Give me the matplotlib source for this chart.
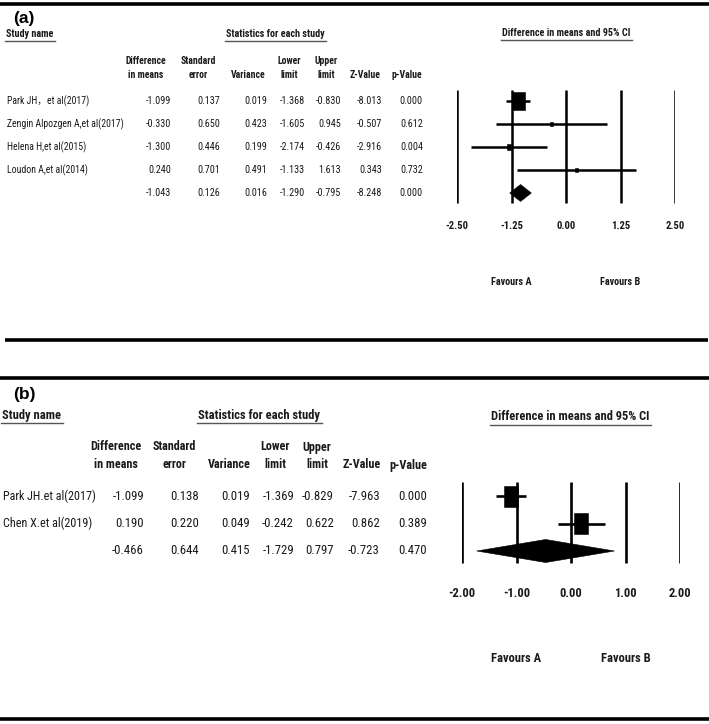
import matplotlib
matplotlib.use("Agg")
import matplotlib.pyplot as plt
from matplotlib import font_manager
from matplotlib.patches import Rectangle, Polygon
import matplotlib.transforms as mtransforms
import numpy as np

# ---------------- data ----------------
headers = ["Difference\nin means", "Standard\nerror", "Variance", "Lower\nlimit",
           "Upper\nlimit", "Z-Value", "p-Value"]

# panel (a) - last entry is the pooled (summary) row
a_studies = ["Park JH，et al(2017)", "Zengin Alpozgen A,et al(2017)",
             "Helena H,et al(2015)", "Loudon A,et al(2014)", ""]
a_diff = [-1.099, -0.330, -1.300, 0.240, -1.043]
a_se = [0.137, 0.650, 0.446, 0.701, 0.126]
a_var = [0.019, 0.423, 0.199, 0.491, 0.016]
a_lower = [-1.368, -1.605, -2.174, -1.133, -1.290]
a_upper = [-0.830, 0.945, -0.426, 1.613, -0.795]
a_z = [-8.013, -0.507, -2.916, 0.343, -8.248]
a_p = [0.000, 0.612, 0.004, 0.732, 0.000]
a_ticks = [-2.50, -1.25, 0.00, 1.25, 2.50]

# panel (b)
b_studies = ["Park JH.et al(2017)", "Chen X.et al(2019)", ""]
b_diff = [-1.099, 0.190, -0.466]
b_se = [0.138, 0.220, 0.644]
b_var = [0.019, 0.049, 0.415]
b_lower = [-1.369, -0.242, -1.729]
b_upper = [-0.829, 0.622, 0.797]
b_z = [-7.963, 0.862, -0.723]
b_p = [0.000, 0.389, 0.470]
b_ticks = [-2.00, -1.00, 0.00, 1.00, 2.00]

fav_labels = ["Favours A", "Favours B"]

# ---------------- fonts ----------------
avail = {f.name for f in font_manager.fontManager.ttflist}
narrow = "Liberation Sans"
for cand in ["Liberation Sans Narrow", "Arial Narrow", "Roboto Condensed",
             "Noto Sans Condensed", "Open Sans Condensed"]:
    if cand in avail:
        narrow = cand
        break
FAM = [narrow, "Noto Sans CJK SC", "DejaVu Sans"]
plt.rcParams["font.family"] = FAM

W, H = 709, 724
fig = plt.figure(figsize=(W / 100, H / 100), dpi=100)
bg = fig.add_axes([0, 0, 1, 1])
bg.set_xlim(0, W)
bg.set_ylim(H, 0)
bg.axis("off")

TXT = "#1a1a1a"


def fig_rect(left, top, right, bottom):
    return [left / W, 1 - bottom / H, (right - left) / W, (bottom - top) / H]


# horizontal rules
for y, x0, x1 in [(4, 0, 709), (340, 5, 708), (378, 0, 709), (719, 0, 709)]:
    bg.plot([x0, x1], [y, y], color="black", lw=2.6, solid_capstyle="butt")

renderer = fig.canvas.get_renderer()


def underlined(x, y, s, fs, ha, ul_dy):
    t = bg.text(x, y, s, fontsize=fs, fontweight="bold", ha=ha, va="center",
                color=TXT)
    bb = t.get_window_extent(renderer)
    bg.plot([bb.x0 - 1, bb.x1 + 2], [y + ul_dy, y + ul_dy], color="#555555", lw=1.0)


def dl_tau2(y, v):
    y = np.asarray(y)
    v = np.asarray(v)
    w = 1 / v
    yb = np.sum(w * y) / np.sum(w)
    q = np.sum(w * (y - yb) ** 2)
    c = np.sum(w) - np.sum(w ** 2) / np.sum(w)
    return max(0.0, (q - (len(y) - 1)) / c)


def panel(label, studies, cols, diff, lower, upper, var, ticks, random_eff, L):
    # labels / titles
    bg.text(L["label_x"], L["label_y"], label, fontsize=L["fs_label"], fontweight="bold",
            family=["Liberation Sans", "DejaVu Sans"], ha="left", va="center",
            color="black")
    underlined(L["name_x"] - 1, L["title_y"], "Study name", L["fs_title"], "left", L["ul_dy"])
    underlined(L["stat_cx"], L["title_y"], "Statistics for each study", L["fs_title"],
               "center", L["ul_dy"])
    underlined(L["ci_x"], L["ci_y"], "Difference in means and 95% CI", L["fs_title"],
               "center", L["ul_dy"])
    # column headers
    for cx, h in zip(L["hdr_cx"], headers):
        parts = h.split("\n")
        ys = L["hdr_y"] if len(parts) == 2 else L["hdr_y"][1:]
        for yy, ptxt in zip(ys, parts):
            bg.text(cx, yy, ptxt, fontsize=L["fs_hdr"], fontweight="bold",
                    ha="center", va="center", color=TXT)
    # rows
    for i, name in enumerate(studies):
        y = L["row_y0"] + i * L["row_dy"]
        if name:
            bg.text(L["name_x"], y, name, fontsize=L["fs_name"], ha="left",
                    va="center", color=TXT)
        for rx, col in zip(L["val_rx"], cols):
            bg.text(rx, y, f"{col[i]:.3f}", fontsize=L["fs_val"], ha="right",
                    va="center", color=TXT)

    # forest plot axes
    px0, px1 = L["plot_x"]
    py0, py1 = L["plot_y"]
    ax = fig.add_axes(fig_rect(px0, py0, px1, py1))
    ax.set_xlim(ticks[0], ticks[-1])
    r0, dr = L["row_y0"], L["row_dy"]
    ax.set_ylim((py1 - r0) / dr, (py0 - r0) / dr)
    ax.patch.set_alpha(0)
    for s in ax.spines.values():
        s.set_visible(False)
    ax.set_yticks([])
    ax.set_xticks(ticks)
    ax.set_xticklabels([f"{t:.2f}" for t in ticks], fontsize=L["fs_tick"],
                       fontweight="bold", color=TXT)
    ax.tick_params(axis="x", length=0, pad=L["tick_pad"])

    vy0 = (L["vline"][0] - r0) / dr
    vy1 = (L["vline"][1] - r0) / dr
    ax.vlines(ticks, vy0, vy1, color="black", lw=L["lw"])

    n = len(studies) - 1
    rows = np.arange(n)
    ax.hlines(rows, lower[:n], upper[:n], color="black", lw=L["lw"], zorder=3)

    tau2 = dl_tau2(diff[:n], var[:n]) if random_eff else 0.0
    w = 1 / (np.asarray(var[:n]) + tau2)
    scale = np.sqrt(w / w.max())
    ppu = (px1 - px0) / (ticks[-1] - ticks[0])
    bw, bh = L["box"]
    for i in range(n):
        ww = bw * scale[i] / ppu
        hh = bh * scale[i] / dr
        ax.add_patch(Rectangle((diff[i] - ww / 2, i - hh / 2), ww, hh,
                               facecolor="black", edgecolor="black", lw=0.4, zorder=4))
    # summary diamond
    hd = L["diamond_h"] / 2 / dr
    ax.add_patch(Polygon([(lower[n], n), (diff[n], n - hd), (upper[n], n),
                          (diff[n], n + hd)], closed=True, facecolor="black",
                         edgecolor="black", lw=0.4, zorder=4))

    tr = mtransforms.blended_transform_factory(ax.transData, bg.transData)
    for xv, lab in zip([ticks[1], ticks[3]], fav_labels):
        ax.text(xv, L["fav_y"], lab, transform=tr, fontsize=L["fs_title"],
                fontweight="bold", ha="center", va="center", color=TXT)
    return ax


LA = dict(label_x=13, label_y=19, fs_label=12.5, title_y=34, ul_dy=7, name_x=7, stat_cx=275,
          ci_x=566, ci_y=33, hdr_cx=[146, 198, 248, 289, 326, 365, 407],
          hdr_y=(61, 75), row_y0=101, row_dy=23,
          val_rx=[171, 220, 267, 305, 341, 382, 423],
          fs_val=7.3, fs_name=7.0, fs_hdr=7.0, fs_title=7.3, fs_tick=7.7,
          plot_x=(457, 675), plot_y=(85, 210), vline=(90, 203), tick_pad=8,
          lw=1.8, box=(13, 18), diamond_h=17, fav_y=282)

LB = dict(label_x=13, label_y=395, fs_label=12.5, title_y=415, ul_dy=8, name_x=3, stat_cx=259,
          ci_x=570, ci_y=417, hdr_cx=[116, 174, 229, 275, 317, 362, 408],
          hdr_y=(447, 465), row_y0=496, row_dy=27.5,
          val_rx=[144, 199, 250, 294, 334, 380, 427],
          fs_val=9.2, fs_name=8.7, fs_hdr=8.7, fs_title=9.0, fs_tick=9.0,
          plot_x=(462, 680), plot_y=(475, 570), vline=(482, 563), tick_pad=12,
          lw=1.9, box=(14, 21), diamond_h=23, fav_y=658)

panel("(a)", a_studies, [a_diff, a_se, a_var, a_lower, a_upper, a_z, a_p],
      a_diff, a_lower, a_upper, a_var, a_ticks, False, LA)
panel("(b)", b_studies, [b_diff, b_se, b_var, b_lower, b_upper, b_z, b_p],
      b_diff, b_lower, b_upper, b_var, b_ticks, True, LB)

fig.savefig("out.png", dpi=100)
